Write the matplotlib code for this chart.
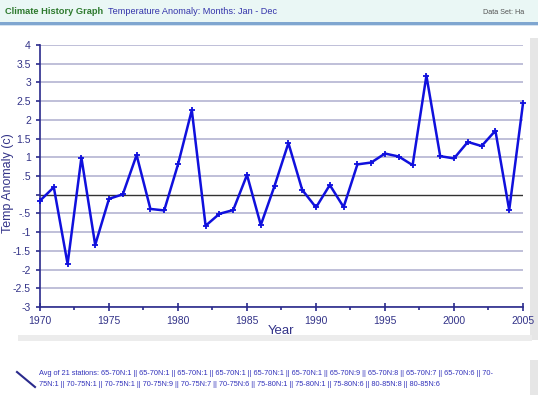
import matplotlib.pyplot as plt
from matplotlib.patches import Rectangle
from matplotlib.lines import Line2D

years = list(range(1970, 2006))
anomaly = [-0.16, 0.20, -1.85, 0.99, -1.34, -0.11, 0.01, 1.06, -0.38, -0.42,
           0.81, 2.26, -0.83, -0.51, -0.41, 0.53, -0.81, 0.24, 1.38, 0.13,
           -0.34, 0.26, -0.33, 0.81, 0.86, 1.10, 1.02, 0.79, 3.18, 1.03,
           0.97, 1.41, 1.30, 1.71, -0.41, 2.44]
y_ticks = [-3, -2.5, -2, -1.5, -1, -0.5, 0, 0.5, 1, 1.5, 2, 2.5, 3, 3.5, 4]
y_labels = ['-3', '-2.5', '-2', '-1.5', '-1', '-.5', '', '.5', '1', '1.5',
            '2', '2.5', '3', '3.5', '4']
x_ticks = [1970, 1975, 1980, 1985, 1990, 1995, 2000, 2005]

NAVY = '#2a2a8c'
GRID = '#b4b4d2'
LINE = '#1010dd'

W, H = 538, 395
fig = plt.figure(figsize=(W / 100, H / 100), dpi=100)
fig.patch.set_facecolor('white')

# page decorations (pixel coords)
bg = fig.add_axes([0, 0, 1, 1])
bg.set_xlim(0, W)
bg.set_ylim(H, 0)
bg.axis('off')
bg.add_patch(Rectangle((0, 0), W, 22, facecolor='#eaf7f5', edgecolor='none'))
bg.add_patch(Rectangle((0, 22), W, 2.5, facecolor='#7fa6d0', edgecolor='none'))
bg.add_patch(Rectangle((0, 24.5), W, 1.5, facecolor='#d4e2f0', edgecolor='none'))
bg.add_patch(Rectangle((530, 38), 8, 302, facecolor='#e6e6e6', edgecolor='none'))
bg.add_patch(Rectangle((18, 335), 514, 6, facecolor='#ececec', edgecolor='none'))
bg.add_patch(Rectangle((530, 360), 8, 35, facecolor='#e6e6e6', edgecolor='none'))
bg.text(5, 12, 'Climate History Graph', color='#2e7a2e', fontsize=6.7,
        fontweight='bold', va='center', family='Liberation Sans')
bg.text(108, 12, 'Temperature Anomaly: Months: Jan - Dec', color='#3333aa',
        fontsize=6.6, va='center', family='Liberation Sans')
bg.text(483, 12, 'Data Set: Ha', color='#555555', fontsize=5.2, va='center',
        family='Liberation Sans', clip_on=True)
bg.add_line(Line2D([17, 35], [372, 387], color=NAVY, lw=1.5))
bg.text(39, 373.5, 'Avg of 21 stations: 65-70N:1 || 65-70N:1 || 65-70N:1 || 65-70N:1 || '
        '65-70N:1 || 65-70N:1 || 65-70N:9 || 65-70N:8 || 65-70N:7 || 65-70N:6 || 70-',
        color='#3333bb', fontsize=5.35, va='center', family='Liberation Sans')
bg.text(39, 384.5, '75N:1 || 70-75N:1 || 70-75N:1 || 70-75N:9 || 70-75N:7 || 70-75N:6 || '
        '75-80N:1 || 75-80N:1 || 75-80N:6 || 80-85N:8 || 80-85N:6',
        color='#3333bb', fontsize=5.35, va='center', family='Liberation Sans')

# main chart
ax = fig.add_axes([40 / W, 1 - 307 / H, (523 - 40) / W, (307 - 45) / H])
ax.set_xlim(1970, 2005)
ax.set_ylim(-3, 4)
ax.set_yticks(y_ticks)
ax.set_yticklabels(y_labels)
ax.set_xticks(x_ticks)
ax.set_xticks([1972.5 + 5 * i for i in range(7)], minor=True)
for y in y_ticks:
    if y != 0:
        ax.axhline(y, color=GRID, lw=1.2, zorder=1)
ax.axhline(0, color='#333333', lw=1, zorder=2)
ax.plot(years, anomaly, color=LINE, lw=1.8, marker='+', ms=5, mew=1.3,
        zorder=3, clip_on=False)

for s in ['top', 'right']:
    ax.spines[s].set_visible(False)
for s in ['left', 'bottom']:
    ax.spines[s].set_color(NAVY)
    ax.spines[s].set_linewidth(1.2)
ax.tick_params(axis='both', colors=NAVY, labelsize=7.5, length=3, width=1.2,
               labelcolor='#333388')
ax.tick_params(axis='x', which='minor', colors=NAVY, length=2, width=1.2)
ax.tick_params(axis='x', which='major', direction='inout', length=6)
for lab in ax.get_xticklabels() + ax.get_yticklabels():
    lab.set_family('Liberation Sans')
ax.set_xlabel('Year', color='#333388', fontsize=9.5, labelpad=-1,
              family='Liberation Sans')
ax.set_ylabel('Temp Anomaly (c)', color='#333388', fontsize=9,
              family='Liberation Sans', va='center')
ax.yaxis.set_label_coords((8 - 40) / 483, 0.473)

fig.savefig('out.png', dpi=100)
